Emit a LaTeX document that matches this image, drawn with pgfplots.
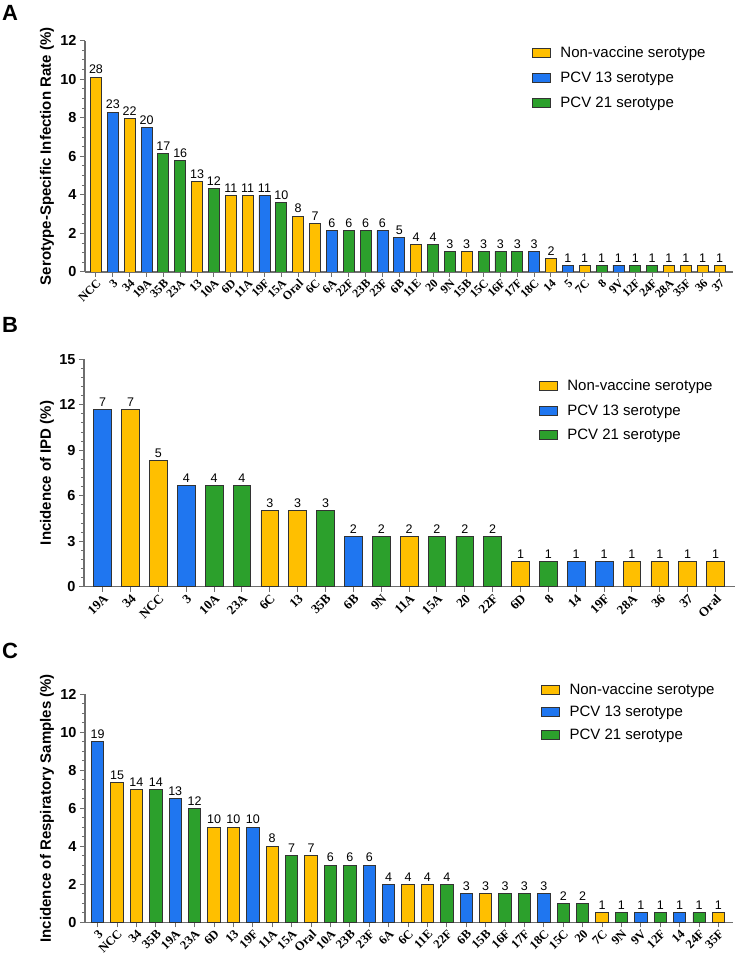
\documentclass[border=0pt]{standalone}
\usepackage{pgfplots}
\pgfplotsset{compat=1.18}
\usepackage{fontspec}
\setmainfont{Liberation Sans}
\newfontfamily\timesf{Liberation Serif}
\definecolor{cY}{HTML}{FFBF00}
\definecolor{cB}{HTML}{1F76F0}
\definecolor{cG}{HTML}{2CA02C}
\definecolor{axgray}{HTML}{6E6E6E}
\definecolor{edge}{HTML}{333333}
\pgfplotsset{
  panel/.style={
    scale only axis,
    axis x line=bottom, axis y line=left,
    axis line style={-, axgray, line width=1.3pt},
    tick align=outside,
    major tick length=5pt, minor tick length=3pt,
    every tick/.style={axgray, line width=1pt},
    ymin=0,
    xtick=data,
    /pgf/number format/assume math mode=true,
    yticklabel style={font=\bfseries\fontsize{14.5}{14.5}\selectfont, text=black},
    xticklabel style={rotate=45, anchor=north east, font=\timesf\bfseries\fontsize{12.5}{12.5}\selectfont, inner sep=1pt, text=black},
    ylabel style={font=\bfseries\fontsize{15}{15}\selectfont, anchor=center, rotate=0},
    ybar,
    point meta=explicit symbolic,
    nodes near coords,
    every node near coord/.append style={font=\fontsize{12.5}{12.5}\selectfont, text=black, inner sep=2.8pt},
    legend cell align=left,
    legend style={draw=none, fill=none, font=\fontsize{15}{15}\selectfont, row sep=8pt, inner sep=0pt, anchor=north west},
  },
  bY/.style={fill=cY, draw=edge, line width=0.8pt, bar shift=0pt, legend image code/.code={\draw[fill=cY, draw=edge, line width=0.8pt] (0pt,-4.5pt) rectangle (18pt,4.5pt); \path (26pt,0pt);}},
  bB/.style={fill=cB, draw=edge, line width=0.8pt, bar shift=0pt, legend image code/.code={\draw[fill=cB, draw=edge, line width=0.8pt] (0pt,-4.5pt) rectangle (18pt,4.5pt); \path (26pt,0pt);}},
  bG/.style={fill=cG, draw=edge, line width=0.8pt, bar shift=0pt, legend image code/.code={\draw[fill=cG, draw=edge, line width=0.8pt] (0pt,-4.5pt) rectangle (18pt,4.5pt); \path (26pt,0pt);}},
}
\begin{document}
\begin{tikzpicture}
\useasboundingbox (0,0) rectangle (735pt,962pt);
% Panel letters
\node[anchor=north west, inner sep=0pt, font=\bfseries\fontsize{22}{22}\selectfont] at (2pt,957pt) {A};
\node[anchor=north west, inner sep=0pt, font=\bfseries\fontsize{22}{22}\selectfont] at (2pt,645pt) {B};
\node[anchor=north west, inner sep=0pt, font=\bfseries\fontsize{22}{22}\selectfont] at (2pt,319pt) {C};

% ---------------- Panel A ----------------
\begin{axis}[panel,
  at={(85pt,690pt)}, anchor=south west,
  width=648pt, height=231.3pt,
  xmin=-0.65, xmax=37.8, ymax=12,
  ytick={0,2,...,12}, minor ytick={0,0.5,...,12},
  bar width=11pt,
  xtick={0,...,37},
  xticklabels={NCC,3,34,19A,35B,23A,13,10A,6D,11A,19F,15A,Oral,6C,6A,22F,23B,23F,6B,11E,20,9N,15B,15C,16F,17F,18C,14,5,7C,8,9V,12F,24F,28A,35F,36,37},
  xticklabel style={font=\timesf\bfseries\fontsize{12}{12}\selectfont},
  ylabel={Serotype-Specific Infection Rate (\%)},
  ylabel style={at={(axis description cs:-0.0586,0.5)}, rotate=0},
  legend style={at={(0.689,0.983)}, row sep=9pt},
]
\addplot[bY] coordinates {(0,10.11)[28] (2,7.95)[22] (6,4.68)[13] (8,3.97)[11] (9,3.97)[11] (12,2.89)[8] (13,2.53)[7] (19,1.43)[4] (22,1.07)[3] (27,0.71)[2] (29,0.35)[1] (34,0.35)[1] (35,0.35)[1] (36,0.35)[1] (37,0.35)[1]};
\addplot[bB] coordinates {(1,8.30)[23] (3,7.50)[20] (10,3.97)[11] (14,2.16)[6] (17,2.16)[6] (18,1.78)[5] (26,1.07)[3] (28,0.35)[1] (31,0.35)[1]};
\addplot[bG] coordinates {(4,6.14)[17] (5,5.79)[16] (7,4.32)[12] (11,3.61)[10] (15,2.16)[6] (16,2.16)[6] (20,1.43)[4] (21,1.07)[3] (23,1.07)[3] (24,1.07)[3] (25,1.07)[3] (30,0.35)[1] (32,0.35)[1] (33,0.35)[1]};
\legend{Non-vaccine serotype, PCV 13 serotype, PCV 21 serotype}
\end{axis}

% ---------------- Panel B ----------------
\begin{axis}[panel,
  at={(84pt,375.3pt)}, anchor=south west,
  width=651pt, height=227.4pt,
  xmin=-0.67, xmax=22.7, ymax=15,
  ytick={0,3,...,15}, minor ytick={0,0.6,...,15},
  bar width=17.7pt,
  xtick={0,...,22},
  xticklabels={19A,34,NCC,3,10A,23A,6C,13,35B,6B,9N,11A,15A,20,22F,6D,8,14,19F,28A,36,37,Oral},
  xticklabel style={font=\timesf\bfseries\fontsize{13}{13}\selectfont},
  ylabel={Incidence of IPD (\%)},
  ylabel style={at={(axis description cs:-0.0568,0.5)}, rotate=0},
  legend style={at={(0.698,0.92)}, row sep=8.5pt},
]
\addplot[bY] coordinates {(1,11.67)[7] (2,8.33)[5] (6,5.0)[3] (7,5.0)[3] (11,3.33)[2] (15,1.67)[1] (19,1.67)[1] (20,1.67)[1] (21,1.67)[1] (22,1.67)[1]};
\addplot[bB] coordinates {(0,11.67)[7] (3,6.67)[4] (9,3.33)[2] (17,1.67)[1] (18,1.67)[1]};
\addplot[bG] coordinates {(4,6.67)[4] (5,6.67)[4] (8,5.0)[3] (10,3.33)[2] (12,3.33)[2] (13,3.33)[2] (14,3.33)[2] (16,1.67)[1]};
\legend{Non-vaccine serotype, PCV 13 serotype, PCV 21 serotype}
\end{axis}

% ---------------- Panel C ----------------
\begin{axis}[panel,
  at={(85pt,39.7pt)}, anchor=south west,
  width=648pt, height=228pt,
  xmin=-0.65, xmax=32.75, ymax=12,
  ytick={0,2,...,12}, minor ytick={0,0.5,...,12},
  bar width=12.3pt,
  xtick={0,...,32},
  xticklabels={3,NCC,34,35B,19A,23A,6D,13,19F,11A,15A,Oral,10A,23B,23F,6A,6C,11E,22F,6B,15B,16F,17F,18C,15C,20,7C,9N,9V,12F,14,24F,35F},
  ylabel={Incidence of Respiratory Samples (\%)},
  ylabel style={at={(axis description cs:-0.0586,0.5)}, rotate=0},
  legend style={at={(0.703,1.058)}, row sep=6.5pt},
]
\addplot[bY] coordinates {(1,7.35)[15] (2,7.0)[14] (6,5.0)[10] (7,5.0)[10] (9,4.0)[8] (11,3.5)[7] (16,2.0)[4] (17,2.0)[4] (20,1.5)[3] (26,0.5)[1] (32,0.5)[1]};
\addplot[bB] coordinates {(0,9.5)[19] (4,6.5)[13] (8,5.0)[10] (14,3.0)[6] (15,2.0)[4] (19,1.5)[3] (23,1.5)[3] (28,0.5)[1] (30,0.5)[1]};
\addplot[bG] coordinates {(3,7.0)[14] (5,6.0)[12] (10,3.5)[7] (12,3.0)[6] (13,3.0)[6] (18,2.0)[4] (21,1.5)[3] (22,1.5)[3] (24,1.0)[2] (25,1.0)[2] (27,0.5)[1] (29,0.5)[1] (31,0.5)[1]};
\legend{Non-vaccine serotype, PCV 13 serotype, PCV 21 serotype}
\end{axis}
\end{tikzpicture}
\end{document}
